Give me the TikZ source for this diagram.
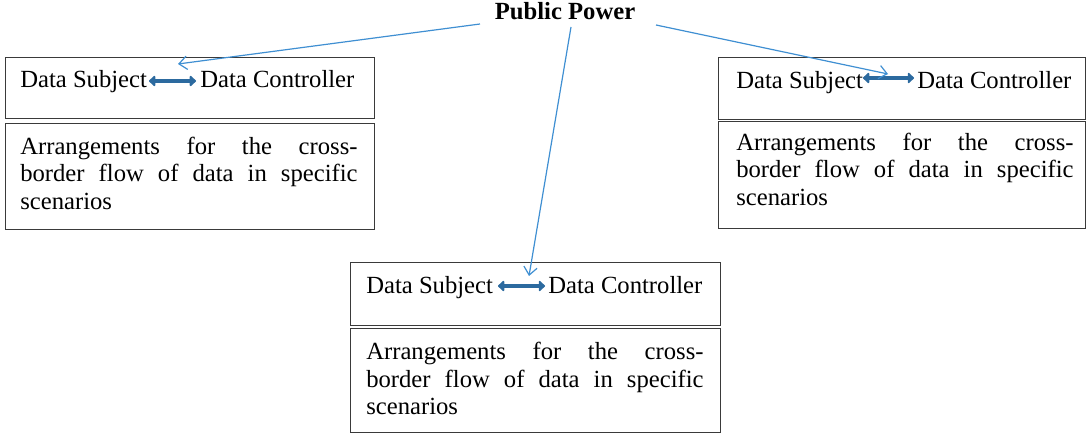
\documentclass[tikz,border=0pt]{standalone}
\usepackage{fontspec}
\setmainfont{Liberation Serif}
\usetikzlibrary{arrows.meta}
\definecolor{conn}{HTML}{3F8FD2}
\definecolor{dbl}{HTML}{2C6A9F}
\definecolor{boxc}{HTML}{3A3A3A}
\tikzset{
  box/.style={draw=boxc,line width=0.8pt,inner sep=0pt,anchor=north west},
  lbl/.style={anchor=base west,inner sep=0pt,font=\fontsize{18.5}{20}\selectfont},
  para/.style={anchor=base west,inner sep=0pt,text width=253pt,align=justify,font=\fontsize{18.5}{20.6}\selectfont},
  conn/.style={draw=conn,line width=0.9pt,-{Straight Barb[length=6pt,width=10pt]}},
  dblarrow/.style={draw=dbl,line width=3.6pt,{Triangle[length=5pt,width=9pt,round]}-{Triangle[length=5pt,width=9pt,round]}}
}
\begin{document}
\begin{tikzpicture}[x=0.75pt,y=-0.75pt]
\useasboundingbox (0,0) rectangle (1089,434);
% title
\node[inner sep=0pt,anchor=base,font=\fontsize{18.5}{20}\selectfont\bfseries] (pp) at (565,20) {Public Power};
% left
\node[box,minimum width=369*0.75pt,minimum height=61*0.75pt] (lt) at (5,57) {};
\node[box,minimum width=369*0.75pt,minimum height=106*0.75pt] (lb) at (5,123) {};
\node[lbl] (lds) at (20,88) {Data Subject};
\node[lbl] (ldc) at (200,88) {Data Controller};
\node[para] (lp) at (20,154.5) {Arrangements for the cross-\linebreak border flow of data in specific\linebreak scenarios};
% right
\node[box,minimum width=367*0.75pt,minimum height=62*0.75pt] (rt) at (718,57) {};
\node[box,minimum width=367*0.75pt,minimum height=107*0.75pt] (rb) at (718,121) {};
\node[lbl] (rds) at (736,89) {Data Subject};
\node[lbl] (rdc) at (917,89) {Data Controller};
\node[para] (rp) at (736,150.5) {Arrangements for the cross-\linebreak border flow of data in specific\linebreak scenarios};
% middle
\node[box,minimum width=370*0.75pt,minimum height=63*0.75pt] (mt) at (350,262) {};
\node[box,minimum width=370*0.75pt,minimum height=104*0.75pt] (mb) at (350,328) {};
\node[lbl] (mds) at (366,294) {Data Subject};
\node[lbl] (mdc) at (548,294) {Data Controller};
\node[para] (mp) at (366,360) {Arrangements for the cross-\linebreak border flow of data in specific\linebreak scenarios};
% double arrows
\coordinate (la1) at (149,81); \coordinate (la2) at (196,81);
\coordinate (ra1) at (863,78); \coordinate (ra2) at (914,78);
\coordinate (ma1) at (498,286); \coordinate (ma2) at (545,286);
\draw[dblarrow] (la1) -- (la2);
\draw[dblarrow] (ra1) -- (ra2);
\draw[dblarrow] (ma1) -- (ma2);
% connectors
\coordinate (ls) at (480,24); \coordinate (le) at (178,64);
\coordinate (ms) at (571,27); \coordinate (me) at (529,276);
\coordinate (rs) at (656,25); \coordinate (re) at (888,74);
\draw[conn] (ls) -- (le);
\draw[conn] (ms) -- (me);
\draw[conn] (rs) -- (re);
\end{tikzpicture}
\end{document}
